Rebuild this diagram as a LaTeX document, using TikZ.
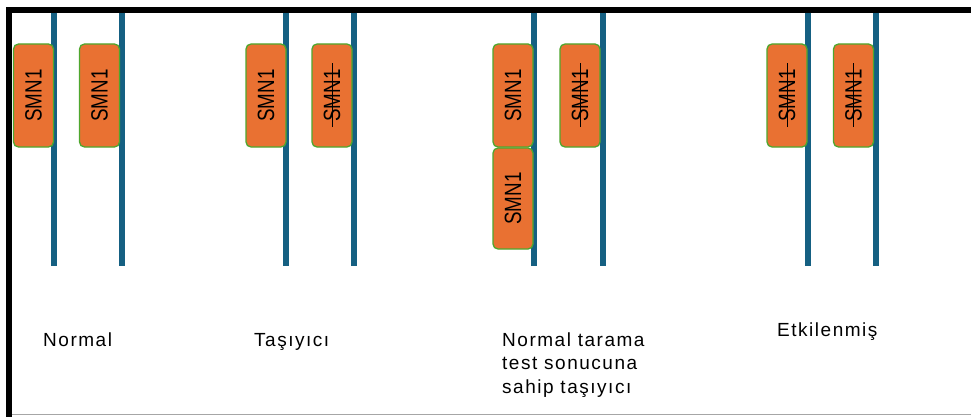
\documentclass[tikz,border=0pt]{standalone}
\usepackage{fontspec}
\setmainfont{Liberation Sans}
\newfontfamily\lblfont[LetterSpace=8]{Liberation Sans}
\usetikzlibrary{calc}
\definecolor{chromblue}{HTML}{156082}
\definecolor{geneorange}{HTML}{E97132}
\definecolor{genegreen}{HTML}{4EA72E}
\tikzset{
  chrom/.style={chromblue, line width=6pt},
  genebox/.style={draw=genegreen, fill=geneorange, line width=1.3pt, rounded corners=5pt,
    minimum width=40pt, minimum height=103pt, inner sep=0pt},
  genetext/.style={rotate=90, inner sep=0pt, font=\fontsize{23.5}{25}\selectfont},
  strike/.style={black, line width=0.9pt},
  lbl/.style={anchor=base west, inner sep=0pt, font=\lblfont\fontsize{19}{23.5}\selectfont}
}
\newcommand{\gname}{\scalebox{0.8}[1]{SMN1}}
\begin{document}
\begin{tikzpicture}[x=1pt,y=-1pt]
\useasboundingbox (0,0) rectangle (971,417);
\fill[white] (0,0) rectangle (971,417);
% frame
\draw[black, line width=5.5pt] (6.25,10) -- (971,10);
\draw[black, line width=5.5pt] (9,10) -- (9,417);
\draw[gray!70, line width=1.5pt] (11.75,414.5) -- (971,414.5);
% chromosomes
\foreach \n/\x in {1/53.5,2/122,3/285.5,4/354,5/533.5,6/602.5,7/807.5,8/876}{
  \coordinate (c\n t) at (\x,12.75);
  \coordinate (c\n b) at (\x,266);
  \draw[chrom] (c\n t) -- (c\n b);
}
% gene boxes
\node[genebox] (b1) at (33.5,95.5) {};
\node[genebox] (b2) at (99.5,95.5) {};
\node[genebox] (b3) at (266,95.5) {};
\node[genebox] (b4) at (332,95.5) {};
\node[genebox] (b5) at (513,95.5) {};
\node[genebox, minimum height=101pt] (b6) at (513,198.5) {};
\node[genebox] (b7) at (580,95.5) {};
\node[genebox] (b8) at (787,95.5) {};
\node[genebox] (b9) at (853.5,95.5) {};
% gene names
\foreach \n in {1,2,3,4,5,6,7,8,9}{
  \node[genetext] (t\n) at (b\n.center) {\gname};
}
\foreach \n in {4,7,8,9}{
  \draw[strike] ($(t\n.east)!1.1!(t\n.west)$) -- ($(t\n.west)!1.12!(t\n.east)$);
}
% labels
\node[lbl] (n1) at (43,346) {Normal};
\node[lbl] (n2) at (254,346) {Taşıyıcı};
\node[lbl] (n3a) at (502,346) {Normal tarama};
\node[lbl] (n3b) at (502,369.5) {test sonucuna};
\node[lbl] (n3c) at (502,393) {sahip taşıyıcı};
\node[lbl] (n4) at (777,336) {Etkilenmiş};
\end{tikzpicture}
\end{document}
